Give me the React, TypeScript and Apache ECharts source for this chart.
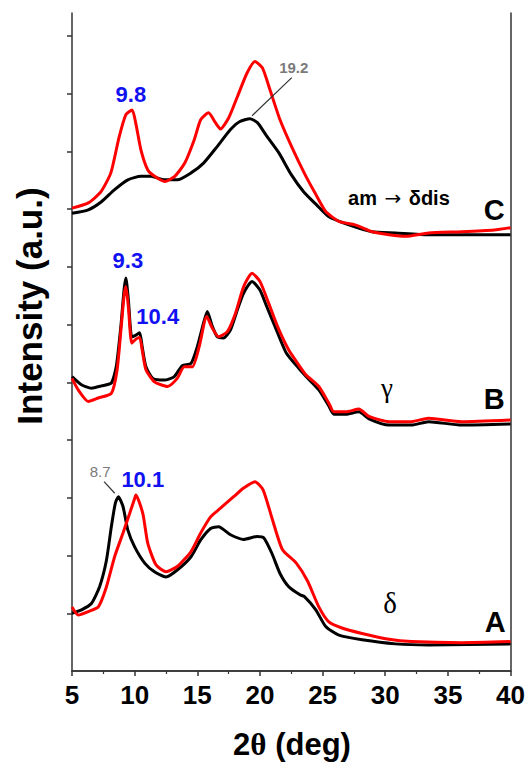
import React, { useEffect, useRef } from "react";
import * as echarts from "echarts";

// 2θ range and tick positions
const X_MIN = 5;
const X_MAX = 40;
const X_STEP = 5;
const Y_MAX = 11.4;
const Y_TICKS = [1, 2, 3, 4, 5, 6, 7, 8, 9, 10, 11];

// Pattern A (δ form)
const aBlack = [
  [5, 1.0], [5.76, 1.06], [6.55, 1.17], [7.2, 1.46], [7.75, 1.92], [8.14, 2.5], [8.46, 2.91],
  [8.7, 3.02], [9.07, 2.85], [9.46, 2.44], [10.0, 2.15], [10.8, 1.87], [11.58, 1.72], [12.5, 1.63],
  [13.4, 1.75], [14.5, 1.98], [15.27, 2.27], [16.06, 2.47], [16.7, 2.5], [17.65, 2.36], [18.7, 2.28],
  [19.76, 2.33], [20.3, 2.31], [20.95, 2.04], [21.6, 1.69], [22.3, 1.46], [23.2, 1.32], [23.55, 1.29],
  [24.46, 1.06], [25.25, 0.77], [26.3, 0.62], [28.15, 0.54], [30.8, 0.47], [33.45, 0.45], [40, 0.47],
];
const aRed = [
  [5, 1.11], [5.5, 0.97], [6.3, 1.03], [7.1, 1.11], [7.75, 1.46], [8.4, 1.98], [9.07, 2.39],
  [9.6, 2.73], [10.0, 2.99], [10.1, 3.05], [10.65, 2.73], [11.05, 2.21], [11.7, 1.84], [12.5, 1.72],
  [13.4, 1.81], [14.5, 2.07], [15.27, 2.39], [16.06, 2.67], [16.85, 2.82], [17.9, 3.02], [18.7, 3.17],
  [19.6, 3.28], [20.25, 3.14], [21.0, 2.62], [21.8, 2.1], [22.9, 1.87], [23.8, 1.56], [24.7, 1.11],
  [25.5, 0.85], [26.6, 0.74], [28.15, 0.65], [30.3, 0.55], [32.1, 0.51], [36.1, 0.49], [40, 0.51],
];

// Pattern B (γ form)
const bBlack = [
  [5, 5.1], [5.75, 4.96], [6.55, 4.9], [7.35, 4.94], [8.14, 4.99], [8.53, 5.27], [8.9, 5.97],
  [9.15, 6.6], [9.3, 6.81], [9.5, 6.43], [9.77, 5.79], [10.1, 5.82], [10.4, 5.86], [10.6, 5.62],
  [10.9, 5.27], [11.45, 5.07], [12.37, 5.04], [13.16, 5.1], [13.8, 5.29], [14.5, 5.33], [15.0, 5.62],
  [15.5, 6.03], [15.8, 6.23], [16.2, 5.97], [16.6, 5.79], [17.1, 5.77], [17.65, 5.91], [18.2, 6.26],
  [18.7, 6.55], [19.37, 6.75], [20.0, 6.6], [20.55, 6.31], [21.2, 5.97], [22.1, 5.51], [23.2, 5.22],
  [23.7, 5.1], [24.7, 4.87], [25.5, 4.59], [25.9, 4.45], [26.85, 4.45], [27.9, 4.49], [28.7, 4.37],
  [30.3, 4.26], [32.1, 4.26], [33.45, 4.32], [36.1, 4.26], [40, 4.28],
];
const bRed = [
  [5, 5.07], [5.5, 4.87], [6.3, 4.67], [7.1, 4.73], [8.14, 4.81], [8.6, 5.22], [8.93, 5.97],
  [9.15, 6.49], [9.3, 6.66], [9.5, 6.31], [9.77, 5.68], [10.1, 5.75], [10.4, 5.78], [10.6, 5.56],
  [10.9, 5.22], [11.58, 5.01], [12.63, 4.93], [13.4, 5.07], [13.96, 5.27], [14.6, 5.27], [15.15, 5.62],
  [15.75, 6.14], [16.2, 5.94], [16.7, 5.79], [17.4, 5.88], [18.05, 6.2], [18.7, 6.66], [19.37, 6.89],
  [20.0, 6.75], [20.7, 6.37], [21.4, 5.97], [22.3, 5.56], [23.2, 5.27], [23.67, 5.13], [24.7, 4.93],
  [25.5, 4.64], [25.9, 4.49], [26.85, 4.49], [27.9, 4.54], [28.7, 4.41], [30.3, 4.32], [32.1, 4.32],
  [33.45, 4.38], [36.1, 4.32], [40, 4.35],
];

// Pattern C (am → δdis)
const cBlack = [
  [5, 7.93], [6.3, 7.99], [7.35, 8.13], [8.4, 8.34], [9.46, 8.51], [10.5, 8.57], [11.3, 8.57],
  [12.4, 8.51], [13.4, 8.51], [14.5, 8.63], [15.5, 8.8], [16.6, 9.09], [17.65, 9.38], [18.4, 9.52],
  [19.2, 9.57], [19.8, 9.5], [20.5, 9.28], [21.5, 8.98], [22.5, 8.6], [23.5, 8.3], [24.5, 8.08],
  [25.5, 7.87], [27.1, 7.73], [28.95, 7.61], [30.8, 7.59], [33.45, 7.56], [36.1, 7.56], [40, 7.56],
];
const cRed = [
  [5, 8.02], [6.3, 8.11], [7.3, 8.3], [8.1, 8.63], [8.76, 9.25], [9.3, 9.64], [9.8, 9.72],
  [10.1, 9.48], [10.5, 9.03], [11.05, 8.68], [11.6, 8.57], [12.4, 8.48], [13.2, 8.57], [14.0, 8.8],
  [14.75, 9.2], [15.27, 9.55], [15.9, 9.67], [16.45, 9.5], [16.85, 9.39], [17.5, 9.58], [18.2, 9.95],
  [18.97, 10.36], [19.6, 10.56], [20.2, 10.45], [20.8, 10.07], [21.6, 9.55], [22.6, 9.05],
  [23.6, 8.6], [24.4, 8.28], [25.25, 7.96], [26.3, 7.79], [27.6, 7.73], [28.95, 7.61],
  [30.3, 7.56], [31.6, 7.53], [33.45, 7.59], [36.1, 7.61], [38.7, 7.64], [40, 7.68],
];

const FONT = '"Liberation Sans", Arial, Helvetica, sans-serif';
const SERIF = '"Liberation Serif", "Times New Roman", serif';
const SYMBOL = '"DejaVu Sans", sans-serif';
const BLUE = "#1010f0";
const GREY = "#7a7a7a";
const AXIS = "#333";

type Note = { text: string; at: number[]; size: number; color: string; bold?: boolean; serif?: boolean };

// Peak positions and sample tags
const notes: Note[] = [
  { text: "9.8", at: [9.7, 9.98], size: 22, color: BLUE, bold: true },
  { text: "19.2", at: [22.7, 10.45], size: 15, color: GREY, bold: true },
  { text: "{s|am }{r|\u2192}{s| \u03b4dis}", at: [31.09, 8.2], size: 20, color: "#000", bold: true },
  { text: "C", at: [38.7, 7.99], size: 29, color: "#000", bold: true },
  { text: "9.3", at: [9.46, 7.12], size: 22, color: BLUE, bold: true },
  { text: "10.4", at: [11.84, 6.14], size: 22, color: BLUE, bold: true },
  { text: "\u03b3", at: [30.14, 4.9], size: 27, color: "#000", serif: true },
  { text: "B", at: [38.7, 4.71], size: 29, color: "#000", bold: true },
  { text: "8.7", at: [7.24, 3.45], size: 15, color: GREY },
  { text: "10.1", at: [10.65, 3.31], size: 22, color: BLUE, bold: true },
  { text: "\u03b4", at: [30.38, 1.18], size: 29, color: "#000", serif: true },
  { text: "A", at: [38.78, 0.85], size: 29, color: "#000", bold: true },
];

// Leader lines from small labels to their peaks
const leader192 = [[22.54, 10.28], [19.37, 9.62]];
const leader87 = [[7.56, 3.28], [8.41, 3.08]];

function curve(data: number[][], color: string) {
  return {
    type: "line",
    data,
    smooth: 0.2,
    symbol: "none",
    silent: true,
    lineStyle: { color, width: 3 },
    z: color === "#000" ? 2 : 3,
  };
}

function leader(data: number[][]) {
  return {
    type: "line",
    data,
    symbol: "none",
    silent: true,
    lineStyle: { color: "#333", width: 1.2 },
    z: 4,
  };
}

const frameLine = { show: true, lineStyle: { color: AXIS, width: 1.5 } };

export default function App() {
  const ref = useRef<HTMLDivElement>(null);

  useEffect(() => {
    if (!ref.current) return;
    const chart = echarts.init(ref.current, undefined, { renderer: "svg" });
    chart.setOption({
      animation: false,
      backgroundColor: "#fff",
      grid: { left: 72, right: 14, top: 13, bottom: 91 },
      xAxis: [
        {
          type: "value",
          min: X_MIN,
          max: X_MAX,
          interval: X_STEP,
          axisLine: frameLine,
          axisTick: { show: true, length: 5, lineStyle: { color: AXIS, width: 1.5 } },
          minorTick: { show: true, splitNumber: 2, length: 3, lineStyle: { color: AXIS, width: 1.2 } },
          splitLine: { show: false },
          axisLabel: {
            margin: 11,
            color: "#000",
            fontSize: 26,
            fontWeight: "bold",
            fontFamily: FONT,
            showMinLabel: true,
            showMaxLabel: true,
          },
        },
        {
          type: "value",
          position: "top",
          min: X_MIN,
          max: X_MAX,
          axisLine: frameLine,
          axisTick: { show: false },
          axisLabel: { show: false },
          splitLine: { show: false },
        },
      ],
      yAxis: [
        {
          type: "value",
          min: 0,
          max: Y_MAX,
          interval: 1,
          axisLine: frameLine,
          axisTick: { show: true, length: 5, customValues: Y_TICKS, lineStyle: { color: AXIS, width: 1.5 } },
          axisLabel: { show: false },
          splitLine: { show: false },
        },
        {
          type: "value",
          position: "right",
          min: 0,
          max: Y_MAX,
          axisLine: frameLine,
          axisTick: { show: false },
          axisLabel: { show: false },
          splitLine: { show: false },
        },
      ],
      graphic: [
        {
          type: "text",
          x: 29,
          y: 306,
          rotation: Math.PI / 2,
          style: {
            text: "Intensity (a.u.)",
            fill: "#000",
            font: `bold 35px ${FONT}`,
            align: "center",
            verticalAlign: "middle",
          },
        },
        {
          type: "text",
          x: 292,
          y: 744,
          style: {
            text: "{a|2}{b|\u03b8}{a| (deg)}",
            align: "center",
            verticalAlign: "middle",
            rich: {
              a: { fontSize: 31, fontWeight: "bold", fontFamily: FONT, fill: "#000" },
              b: { fontSize: 31, fontWeight: "bold", fontFamily: SERIF, fill: "#000" },
            },
          },
        },
      ],
      series: [
        curve(aBlack, "#000"),
        curve(aRed, "#ff0000"),
        curve(bBlack, "#000"),
        curve(bRed, "#ff0000"),
        curve(cBlack, "#000"),
        curve(cRed, "#ff0000"),
        leader(leader192),
        leader(leader87),
        {
          type: "scatter",
          silent: true,
          symbolSize: 2,
          itemStyle: { color: "rgba(255,255,255,0)" },
          z: 5,
          data: notes.map((n) => ({
            value: n.at,
            name: n.text,
            label: {
              show: true,
              position: "inside",
              formatter: "{b}",
              fontSize: n.size,
              fontWeight: n.bold ? "bold" : "normal",
              fontFamily: n.serif ? SERIF : FONT,
              color: n.color,
              textBorderWidth: 0,
              textBorderColor: "transparent",
              opacity: 1,
              align: "center",
              verticalAlign: "middle",
              rich: {
                s: { fontSize: n.size, fontWeight: "bold", fontFamily: FONT, color: n.color },
                r: {
                  fontSize: n.size,
                  fontWeight: "normal",
                  fontFamily: SYMBOL,
                  color: n.color,
                  padding: [0, 2, 0, 2],
                },
              },
            },
          })),
        },
      ],
    });
    return () => chart.dispose();
  }, []);

  return (
    <div
      ref={ref}
      style={{ position: "fixed", left: 0, top: 0, width: 528, height: 762 }}
    />
  );
}
